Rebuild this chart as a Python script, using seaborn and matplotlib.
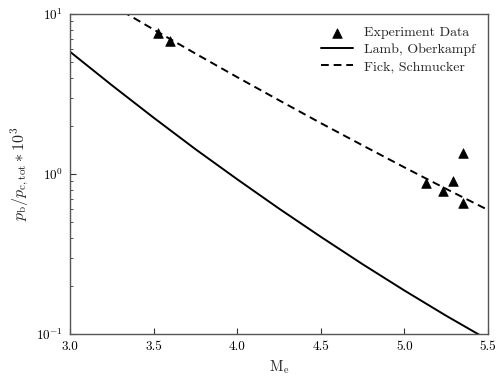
import numpy as np
import pandas as pd
import matplotlib
matplotlib.use("Agg")
import matplotlib.pyplot as plt
import seaborn as sns
from matplotlib.ticker import LogLocator

# --- data ---
lamb_mach = [3.0, 3.25, 3.5, 3.75, 4.0, 4.25, 4.5, 4.75, 5.0, 5.25, 5.5]
lamb_ratio = [5.81, 3.59, 2.25, 1.43, 0.927, 0.608, 0.405, 0.273, 0.187, 0.130, 0.092]

fick_mach = [3.25, 3.5, 3.75, 4.0, 4.25, 4.5, 4.75, 5.0, 5.25, 5.5]
fick_ratio = [11.37, 8.0, 5.66, 4.03, 2.89, 2.08, 1.51, 1.10, 0.807, 0.596]

exp_mach = [3.526, 3.598, 5.129, 5.231, 5.291, 5.350, 5.350]
exp_ratio = [7.6, 6.78, 0.879, 0.783, 0.904, 1.35, 0.659]

sns.set_style("white")
plt.rcParams.update({
    "font.family": "cmr10",
    "mathtext.fontset": "cm",
    "axes.formatter.use_mathtext": True,
    "font.size": 9.5,
})

fig = plt.figure(figsize=(4.96, 3.81), dpi=100)
ax = fig.add_axes([70/496, 1-334/381, 418/496, 320/381])

df_exp = pd.DataFrame({"M": exp_mach, "p": exp_ratio})
df_lamb = pd.DataFrame({"M": lamb_mach, "p": lamb_ratio})
df_fick = pd.DataFrame({"M": fick_mach, "p": fick_ratio})

sns.scatterplot(data=df_exp, x="M", y="p", ax=ax, marker="^", color="black",
                s=48, edgecolor="black", linewidth=0.5, label="Experiment Data", zorder=3)
sns.lineplot(data=df_lamb, x="M", y="p", ax=ax, color="black", linewidth=1.4,
             label="Lamb, Oberkampf")
sns.lineplot(data=df_fick, x="M", y="p", ax=ax, color="black", linewidth=1.4,
             linestyle=(0, (4, 2.5)), label="Fick, Schmucker")

ax.set_yscale("log")
ax.set_xlim(3.0, 5.5)
ax.set_ylim(0.1, 10)
ax.set_xticks([3.0, 3.5, 4.0, 4.5, 5.0, 5.5])
ax.set_xticklabels(["3.0", "3.5", "4.0", "4.5", "5.0", "5.5"])
ax.yaxis.set_major_locator(LogLocator(base=10, numticks=10))
ax.yaxis.set_minor_locator(LogLocator(base=10, subs=np.arange(2, 10), numticks=20))

ax.tick_params(axis="both", which="major", direction="in", length=4, width=0.8,
               top=False, right=False, bottom=True, left=True, colors="#333333",
               labelcolor="black", labelsize=9.5, pad=5)
ax.tick_params(axis="y", which="minor", direction="in", length=2, width=0.6,
               right=False, left=True, colors="#333333")
ax.tick_params(axis="x", which="minor", bottom=False, top=False)

for sp in ax.spines.values():
    sp.set_color("#555555")
    sp.set_linewidth(1.0)

ax.set_xlabel(r"$\mathrm{M_e}$", fontsize=10.5)
ax.set_ylabel(r"$p_{\mathrm{b}}/p_{\mathrm{c,tot}} * 10^3$", fontsize=11.5)

leg = ax.legend(loc="upper right", frameon=False, fontsize=10, handlelength=2.3,
                labelspacing=0.3, borderaxespad=0.5, handletextpad=0.8)

fig.savefig("out.png", dpi=100)
